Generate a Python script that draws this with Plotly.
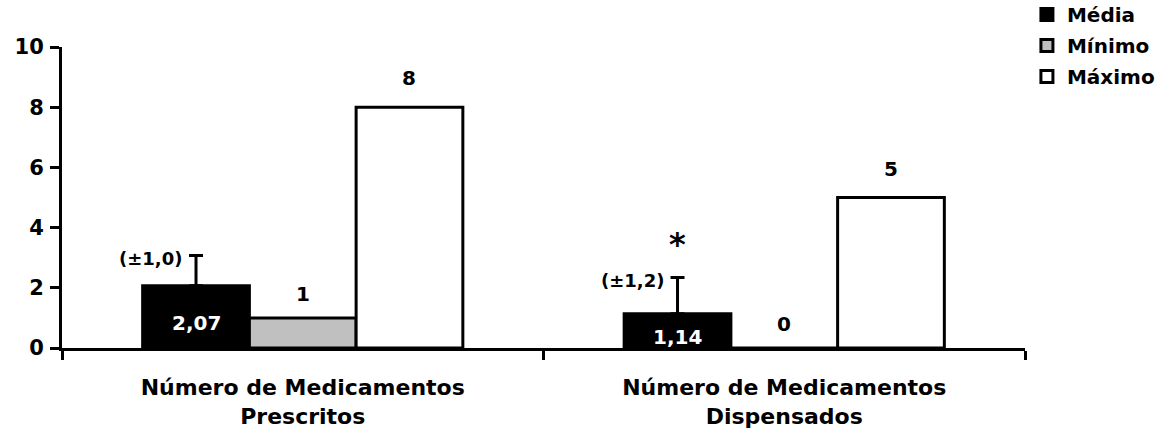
import plotly.graph_objects as go

# Dados
categorias = ["Número de Medicamentos<br>Prescritos", "Número de Medicamentos<br>Dispensados"]
series = ["Média", "Mínimo", "Máximo"]
media = [2.07, 1.14]
desvio = [1.0, 1.2]
minimo = [1, 0]
maximo = [8, 5]
rotulos_media = ["2,07", "1,14"]
rotulos_desvio = ["(±1,0)", "(±1,2)"]
rotulos_minimo = ["1", "0"]
rotulos_maximo = ["8", "5"]
significancia = ["", "*"]
y_ticks = [0, 2, 4, 6, 8, 10]

FONTE = "DejaVu Sans, Arial, sans-serif"
BARGAP = 0.335
largura = (1 - BARGAP) / 3  # largura de cada barra em unidades de categoria

fig = go.Figure()

fig.add_trace(go.Bar(
    name=series[0], x=categorias, y=media, legendgroup="a",
    marker=dict(color="black", line=dict(color="black", width=3)),
    error_y=dict(type="data", array=desvio, arrayminus=[0, 0], symmetric=False,
                 color="black", thickness=3, width=7),
))
fig.add_trace(go.Bar(
    name=series[1], x=categorias, y=minimo, legendgroup="b",
    marker=dict(color="#c0c0c0", line=dict(color="black", width=3)),
))
fig.add_trace(go.Bar(
    name=series[2], x=categorias, y=maximo, legendgroup="c",
    marker=dict(color="white", line=dict(color="black", width=3)),
))

anot = []
txt = dict(family=FONTE, size=20, color="black", weight="bold")
for i in range(len(categorias)):
    xm = i - largura
    # valor da média dentro da barra
    anot.append(dict(x=xm, y=media[i] / 2 - 0.2, text=rotulos_media[i], showarrow=False,
                     font=dict(family=FONTE, size=20, color="white", weight="bold")))
    # desvio padrão ao lado da barra de erro
    anot.append(dict(x=xm, y=media[i] + desvio[i], text=rotulos_desvio[i], showarrow=False,
                     xanchor="right", xshift=-12, yshift=-3,
                     font=dict(family=FONTE, size=18, color="black", weight="bold")))
    if significancia[i]:
        anot.append(dict(x=xm, y=media[i] + desvio[i], text=significancia[i], showarrow=False,
                         yanchor="middle", yshift=34,
                         font=dict(family=FONTE, size=32, color="black", weight="bold")))
    anot.append(dict(x=i, y=minimo[i], text=rotulos_minimo[i], showarrow=False,
                     yanchor="bottom", yshift=10, font=txt))
    anot.append(dict(x=i + largura, y=maximo[i], text=rotulos_maximo[i], showarrow=False,
                     yanchor="bottom", yshift=15, font=txt))

fig.update_layout(
    width=1173, height=441,
    margin=dict(l=62, r=148, t=47, b=93, autoexpand=False),
    paper_bgcolor="white", plot_bgcolor="white",
    barmode="group", bargap=BARGAP, bargroupgap=0,
    font=dict(family=FONTE, color="black"),
    annotations=anot,
    legend=dict(x=1.002, y=1.173, xanchor="left", yanchor="top",
                font=dict(family=FONTE, size=20, color="black", weight="bold"),
                tracegroupgap=2, bgcolor="rgba(0,0,0,0)", itemwidth=30),
    xaxis=dict(showline=True, linecolor="black", linewidth=3, ticks="outside",
               tickson="boundaries", ticklen=9, tickwidth=3, tickcolor="black",
               showgrid=False, ticklabelstandoff=18,
               tickfont=dict(family=FONTE, size=22, color="black", weight="bold")),
    yaxis=dict(range=[0, 10], tickvals=y_ticks, showline=True, linecolor="black",
               linewidth=3, ticks="outside", ticklen=9, tickwidth=3, tickcolor="black",
               showgrid=False, zeroline=False, ticklabelstandoff=2,
               tickfont=dict(family=FONTE, size=21, color="black", weight="bold")),
)

fig.write_html("out.html")
